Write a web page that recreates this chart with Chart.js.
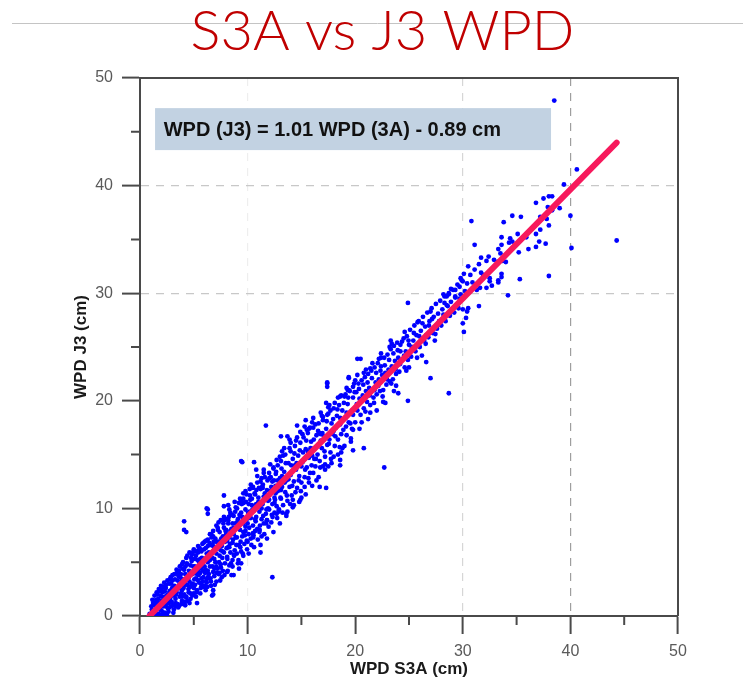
<!DOCTYPE html>
<html>
<head>
<meta charset="utf-8">
<script src="https://cdn.jsdelivr.net/npm/chart.js@4"></script>
<style>
  body { margin: 0; background: #fff; }
  #wrap { width: 743px; height: 683px; }
</style>
</head>
<body>
<div id="wrap"><canvas id="wpd"></canvas></div>
<script>
// WPD S3A (x) vs WPD J3 (y), in cm

// core of the cloud, S3A < 10 cm
var bandLow = [
  [0.9,0.2],[1.1,0.6],[1.2,0.1],[1.3,1.0],[1.4,0.4],[1.5,1.5],[1.6,0.7],[1.7,0.2],[1.8,1.2],[1.9,1.9],
  [2.0,0.5],[2.0,1.4],[2.1,2.2],[2.2,0.9],[2.3,1.7],[2.3,0.3],[2.4,2.6],[2.5,1.2],[2.6,2.0],[2.6,0.7],
  [2.7,3.0],[2.8,1.6],[2.9,2.4],[2.9,0.9],[3.0,3.3],[3.0,1.9],[3.1,1.0],[3.2,2.8],[3.2,3.9],[3.3,1.6],
  [3.4,2.2],[3.4,4.3],[3.5,1.1],[3.5,3.3],[3.6,2.6],[3.7,4.6],[3.7,1.8],[3.8,3.0],[3.8,3.9],[3.9,1.4],
  [3.9,2.4],[4.0,5.0],[4.0,3.4],[4.1,2.0],[4.1,4.3],[4.2,2.9],[4.3,5.4],[4.3,1.7],[4.4,3.7],[4.4,4.8],
  [4.5,2.5],[4.6,3.2],[4.6,5.9],[4.7,4.1],[4.7,2.1],[4.8,5.1],[4.9,3.0],[4.9,3.9],[5.0,6.2],[5.0,2.6],
  [5.1,4.6],[5.2,3.5],[5.2,5.6],[5.3,2.4],[5.4,4.2],[5.4,6.5],[5.5,3.1],[5.5,5.0],[5.6,4.0],[5.7,6.0],
  [5.7,2.9],[5.8,4.7],[5.9,3.6],[5.9,6.8],[6.0,5.3],[6.0,2.8],[6.1,4.3],[6.1,6.3],[6.2,3.4],[6.3,7.1],
  [6.3,5.0],[6.4,3.9],[6.4,5.9],[6.5,7.6],[6.5,4.6],[6.6,3.2],[6.6,6.6],[6.7,5.4],[6.8,7.9],[6.8,4.1],
  [6.9,6.2],[6.9,3.7],[7.0,7.2],[7.0,5.0],[7.1,8.4],[7.1,5.8],[7.2,4.4],[7.3,6.9],[7.3,3.9],[7.4,7.8],
  [7.4,5.6],[7.5,4.8],[7.5,8.9],[7.6,6.5],[7.7,4.2],[7.7,7.4],[7.8,5.9],[7.8,8.2],[7.9,6.9],[7.9,4.9],
  [8.0,9.0],[8.0,7.6],[8.1,5.5],[8.2,6.4],[8.2,8.6],[8.3,4.7],[8.3,7.3],[8.4,9.6],[8.4,5.9],[8.5,8.1],
  [8.6,6.8],[8.6,5.2],[8.7,9.3],[8.7,7.6],[8.8,6.1],[8.9,8.6],[8.9,10.1],[9.0,5.8],[9.0,7.3],[9.1,9.0],
  [9.2,6.6],[9.2,10.5],[9.3,8.0],[9.4,6.0],[9.4,9.6],[9.5,7.4],[9.6,10.9],[9.6,8.6],[9.7,6.7],[9.8,9.9],
  [9.8,7.9],[9.9,11.3],[10.0,8.6],[10.0,6.9]
];

// further passes over the packed part of the cloud
var fillLow = [
  [1.05,0.9],[1.15,1.5],[1.25,0.5],[1.35,1.9],[1.45,0.2],[1.55,2.2],[1.65,1.2],[1.75,2.5],[1.85,0.6],[1.95,2.8],
  [2.05,1.8],[2.15,0.2],[2.25,3.1],[2.35,1.1],[2.45,1.9],[2.55,3.3],[2.65,0.4],[2.75,2.3],[2.85,3.6],[2.95,1.3],
  [3.05,2.6],[3.15,0.6],[3.25,3.4],[3.35,2.0],[3.45,4.0],[3.55,0.8],[3.65,2.9],[3.75,3.6],[3.85,1.1],[3.95,4.4],
  [4.05,2.6],[4.15,1.3],[4.25,3.3],[4.35,4.9],[4.45,1.4],[4.55,4.2],[4.65,2.7],[4.75,5.4],[4.85,1.9],[4.95,4.6],
  [5.05,3.4],[5.15,6.0],[5.25,2.2],[5.35,5.2],[5.45,3.8],[5.55,6.3],[5.65,2.6],[5.75,5.4],[5.85,3.2],[5.95,6.2],
  [6.05,4.0],[6.15,7.0],[6.25,2.7],[6.35,5.5],[6.45,6.8],[6.55,3.5],[6.65,7.3],[6.75,4.6],[6.85,6.9],[6.95,2.9],
  [7.05,6.4],[7.15,4.0],[7.25,8.0],[7.35,5.0],[7.45,3.3],[7.55,7.2],[7.65,5.4],[7.75,8.6],[7.85,3.8],[7.95,7.9],
  [8.05,6.3],[8.15,4.2],[8.25,9.2],[8.35,6.7],[8.45,4.9],[8.55,9.4],[8.65,7.1],[8.75,5.6],[8.85,9.7],[8.95,6.6],
  [9.05,8.3],[9.15,5.2],[9.25,9.4],[9.35,6.9],[9.45,10.4],[9.55,5.8],[9.65,9.1],[9.75,7.5],[9.85,10.6],[9.95,6.2],
  [10.05,9.6],[10.15,8.2],[10.25,10.8],[10.35,6.6],[10.45,9.9],[10.55,7.5],[10.65,11.4],[10.75,8.8],[10.85,10.2],[10.95,7.1],
  [11.05,11.9],[11.15,8.4],[11.25,10.5],[11.35,12.0],[11.45,9.3],[11.55,7.6],[11.65,11.2],[11.75,9.9],[11.85,12.6],[11.95,8.3]
];

var edgeLow = [
  [1.6,2.0],[1.9,0.1],[2.2,2.7],[2.5,0.1],[2.8,3.4],[3.1,0.3],[3.3,3.9],[3.6,0.9],[3.9,4.8],[4.2,1.0],
  [4.4,5.6],[4.7,1.6],[4.9,5.9],[5.2,1.8],[5.4,5.9],[5.6,2.1],[5.8,6.7],[6.1,2.4],[6.3,6.5],[6.6,2.8],
  [6.8,7.4],[7.1,3.2],[7.3,8.7],[7.6,3.6],[7.8,9.2],[8.1,4.1],[8.3,9.9],[8.6,4.6],[8.8,10.6],[9.1,4.9],
  [9.3,10.9],[9.6,5.6],[9.8,11.6],[10.1,5.8],[10.3,12.2],[10.6,6.4],
  [1.7,1.6],[2.0,2.4],[2.4,0.9],[2.7,1.2],[3.0,2.6],[3.3,2.5],[3.6,3.7],[3.9,3.3],[4.2,3.9],[4.5,3.5],
  [4.8,2.9],[5.1,5.3],[5.4,3.3],[5.7,4.4],[6.0,4.6],[6.3,4.2],[6.6,5.7],[6.9,5.3],[7.2,6.4],[7.5,6.1],
  [7.8,7.1],[8.1,7.0],[8.4,7.9],[8.7,8.2],[9.0,8.7],[9.3,9.3],[9.6,7.8],[9.9,9.0]
];

var coreLow = [
  [1.22,1.2],[1.52,0.1],[1.82,2.3],[2.12,0.3],[2.42,2.9],[2.72,0.8],[3.02,3.8],[3.32,1.2],[3.62,4.2],[3.92,1.8],
  [4.22,4.6],[4.52,2.2],[4.82,5.7],[5.12,2.9],[5.42,6.1],[5.72,3.5],[6.02,6.9],[6.32,3.6],[6.62,7.6],[6.92,4.4],
  [7.22,8.2],[7.52,4.5],[7.82,8.9],[8.12,5.3],[8.42,9.4],[8.72,5.7],[9.02,10.0],[9.32,6.4],[9.62,10.5],[9.92,7.0],
  [10.22,11.2],[10.52,7.3],[10.82,11.7],[11.12,8.0],[11.42,12.2],[11.72,8.6],[12.02,12.8],[12.32,9.2],[12.62,13.2],[12.92,9.9],
  [1.4,1.2],[1.7,0.9],[2.0,1.1],[2.3,2.3],[2.6,1.5],[2.9,3.0],[3.2,1.9],[3.5,2.6],[3.8,2.1],[4.1,3.1],
  [4.4,2.9],[4.7,4.7],[5.0,4.0],[5.3,3.9],[5.6,5.3],[5.9,4.2],[6.2,5.8],[6.5,5.2],[6.8,6.5],[7.1,6.9],
  [7.4,6.8],[7.7,6.0],[8.0,8.0],[8.3,6.4],[8.6,8.6],[8.9,7.3],[9.2,8.4],[9.5,9.2],[9.8,8.3],[10.1,9.1],
  [10.4,10.3],[10.7,9.0],[11.0,11.0],[11.3,10.0],[11.6,11.4],[11.9,10.0],[12.2,12.0],[12.5,10.5],[12.8,12.6],[13.1,11.7]
];

// S3A 10 to 20 cm
var bandMid = [
  [10.1,10.4],[10.1,7.6],[10.2,11.8],[10.3,9.1],[10.3,7.2],[10.4,10.9],[10.5,8.4],[10.5,12.0],[10.6,9.8],[10.7,7.9],
  [10.7,11.3],[10.8,9.2],[10.9,12.4],[10.9,8.1],[11.0,10.6],[11.1,9.7],[11.1,7.8],[11.2,11.8],[11.3,9.0],[11.3,12.8],
  [11.4,10.4],[11.5,8.6],[11.5,11.1],[11.6,12.9],[11.7,9.5],[11.8,11.7],[11.8,8.9],[11.9,10.7],[12.0,13.3],[12.0,9.9],
  [12.1,11.6],[12.2,8.7],[12.3,12.5],[12.3,10.4],[12.4,13.8],[12.5,11.0],[12.5,9.6],[12.6,12.1],[12.7,10.2],[12.8,14.0],
  [12.8,11.6],[12.9,9.8],[13.0,12.8],[13.1,10.9],[13.1,14.4],[13.2,12.0],[13.3,10.3],[13.4,13.4],[13.5,11.5],[13.5,15.0],
  [13.6,12.6],[13.7,10.7],[13.8,14.2],[13.9,12.0],[14.0,15.3],[14.0,13.1],[14.1,11.2],[14.2,14.6],[14.3,12.5],[14.4,15.8],
  [14.5,13.6],[14.6,11.9],[14.7,14.9],[14.8,13.0],[14.9,16.1],[15.0,12.4],[15.1,14.3],[15.2,16.6],[15.3,12.9],[15.4,15.5],
  [15.5,13.8],[15.6,17.0],[15.7,14.7],[15.8,13.3],[15.9,16.2],[16.0,14.9],[16.1,17.5],[16.2,15.6],[16.3,13.9],[16.4,16.8],
  [16.5,15.0],[16.6,17.9],[16.7,14.4],[16.8,16.3],[16.9,15.6],[17.0,18.2],[17.1,16.7],[17.2,14.8],[17.3,17.4],[17.4,15.9],
  [17.5,18.8],[17.6,16.4],[17.7,15.2],[17.8,17.9],[17.9,16.9],[18.0,19.3],[18.1,15.8],[18.2,17.5],[18.3,18.6],[18.4,16.4],
  [18.5,19.6],[18.6,17.8],[18.7,16.9],[18.8,19.1],[18.9,17.3],[19.0,20.4],[19.1,18.4],[19.2,16.8],[19.3,19.7],[19.4,18.0],
  [19.5,20.9],[19.6,18.9],[19.7,17.4],[19.8,20.3],[19.9,19.2],[20.0,18.0]
];

var fillMid = [
  [12.05,11.3],[12.15,12.9],[12.25,9.4],[12.45,12.6],[12.55,10.8],[12.65,13.4],[12.75,9.1],[12.95,12.4],[13.05,11.0],[13.15,13.7],
  [13.25,9.6],[13.45,12.4],[13.55,14.2],[13.65,11.2],[13.85,13.1],[13.95,10.4],[14.05,14.0],[14.15,12.1],[14.35,15.1],[14.45,11.5],
  [14.55,14.2],[14.75,12.6],[14.85,15.4],[14.95,11.6],[15.15,15.2],[15.35,13.6],[15.45,16.3],[15.65,12.8],[15.85,15.6],[15.95,14.0],
  [16.15,16.4],[16.35,14.6],[16.55,17.2],[16.75,13.8],[16.95,17.0],[17.15,15.3],[17.35,18.1],[17.55,16.0],[17.75,14.6],[17.95,18.3],
  [18.15,16.7],[18.35,19.2],[18.55,15.7],[18.75,18.2],[18.95,19.8],[19.15,17.6],[19.35,20.3],[19.55,17.9],[19.75,19.1],[19.95,20.8]
];

var edgeMid = [
  [10.9,13.0],[11.2,6.6],[11.5,13.6],[11.8,7.2],[12.1,14.1],[12.4,7.8],[12.7,14.5],[13.0,8.6],[13.3,14.9],[13.6,9.3],
  [13.9,15.6],[14.2,10.1],[14.5,16.3],[14.8,10.6],[15.1,16.9],[15.4,11.3],[15.7,17.4],[16.0,12.1],[16.3,17.8],[16.6,12.9],
  [16.9,18.6],[17.2,13.6],[17.5,19.4],[17.8,14.2],[18.1,19.8],[18.4,15.0],[18.7,20.5],[19.0,15.8],[19.3,21.0],[19.6,16.5],
  [19.9,21.6],
  [10.2,9.7],[10.8,10.4],[11.4,11.9],[12.0,10.8],[12.6,11.4],[13.2,13.0],[13.8,12.7],[14.4,14.0],[15.0,13.9],[15.6,15.3],
  [16.2,14.6],[16.8,16.9],[17.4,16.7],[18.0,17.2],[18.6,18.4],[19.2,18.9],[19.8,18.7],
  [13.4,15.6],[13.7,9.7],[14.0,16.1],[14.3,10.3],[14.6,16.6],[15.0,11.0],[15.3,17.6],[15.7,12.4],[16.0,18.0],[16.4,12.6],
  [16.8,18.9],[17.2,14.1],[17.6,19.6],[18.0,14.8],[18.4,20.3],[18.8,15.6],[19.2,21.2],[19.6,16.2]
];

// S3A 20 to 30 cm
var bandHigh = [
  [20.1,20.8],[20.2,19.1],[20.3,21.6],[20.4,20.2],[20.5,18.7],[20.6,21.9],[20.7,20.5],[20.8,19.3],[20.9,22.2],[21.0,20.9],
  [21.1,19.9],[21.2,22.5],[21.3,21.2],[21.4,19.6],[21.5,22.8],[21.6,21.0],[21.7,20.3],[21.8,23.1],[21.9,21.7],[22.0,20.6],
  [22.1,23.5],[22.2,22.0],[22.3,20.9],[22.4,23.2],[22.5,22.4],[22.6,21.0],[22.7,24.0],[22.8,22.6],[22.9,21.5],[23.0,24.3],
  [23.1,22.9],[23.2,21.8],[23.3,24.8],[23.4,23.2],[23.5,22.0],[23.6,25.1],[23.7,23.7],[23.8,22.5],[23.9,25.4],[24.0,24.0],
  [24.1,22.7],[24.2,25.2],[24.3,23.8],[24.5,25.8],[24.6,23.1],[24.7,24.6],[24.8,26.0],[24.9,23.8],[25.0,25.2],[25.1,26.6],
  [25.2,24.1],[25.4,25.6],[25.5,27.0],[25.6,24.6],[25.7,26.1],[25.9,27.4],[26.0,25.0],[26.1,26.5],[26.3,27.8],[26.4,25.6],
  [26.5,26.9],[26.7,28.2],[26.8,25.9],[26.9,27.4],[27.1,28.6],[27.2,26.3],[27.3,27.8],[27.5,29.0],[27.6,26.7],[27.7,28.1],
  [27.9,29.3],[28.0,27.0],[28.1,28.5],[28.3,29.7],[28.4,27.4],[28.5,28.9],[28.7,30.0],[28.8,27.9],[28.9,29.2],[29.1,30.3],
  [29.2,28.2],[29.3,29.6],[29.5,30.8],[29.6,28.6],[29.8,29.9],[29.9,31.2]
];

var fillHigh = [
  [20.15,19.7],[20.35,21.1],[20.55,19.9],[20.75,21.5],[20.95,19.0],[21.15,21.7],[21.35,20.5],[21.55,22.1],[21.75,19.8],[21.95,22.6],
  [22.15,21.4],[22.35,22.8],[22.55,20.4],[22.75,23.3],[22.95,22.0],[23.15,23.8],[23.35,21.6],[23.55,24.4],[23.75,22.9],[23.95,24.7],
  [24.15,23.4],[24.35,25.5],[24.55,24.2],[24.75,22.8],[24.95,25.6],[25.25,25.0],[25.45,26.3],[25.75,24.0],[25.95,26.0],[26.25,27.2],
  [26.55,25.3],[26.85,27.0],[27.15,27.6],[27.45,26.2],
  [20.2,22.4],[20.6,18.0],[21.0,22.9],[21.4,18.9],[21.8,21.0],[22.2,23.9],[22.6,19.9],[23.0,22.6],[23.4,25.3],[23.8,21.4],
  [24.2,24.6],[24.6,26.4],[25.0,23.1],[25.4,24.9],[25.8,27.3],[26.2,24.2],[26.6,26.1],[27.0,28.3],[27.4,25.6],[27.8,27.4],
  [28.2,28.0],
  [20.0,21.9],[20.4,17.4],[20.8,22.6],[21.2,18.3],[21.6,23.5],[22.0,19.1],[22.4,24.4],[22.8,19.8],[23.2,25.0],[23.6,20.9]
];

// sparse top end of the cloud
var upperTail = [
  [38.5,47.9],[40.6,41.5],[39.4,40.1],[44.3,34.9],[40.1,34.2],[40.0,37.2],[39.0,37.9],[38.3,39.0],[38.0,39.0],[37.5,38.8],
  [36.8,38.4],[37.9,38.0],[38.3,37.7],[37.2,37.1],[37.8,36.9],[38.0,36.3],[38.0,31.6],[35.3,31.3],[34.2,29.8],[30.8,36.7],
  [34.6,37.2],[35.4,37.1],[33.8,36.6],[33.6,35.2],[34.4,35.1],[35.1,35.5],[34.6,34.8],[34.3,34.7],[35.9,35.2],[36.8,35.5],
  [37.2,35.9],[37.1,34.8],[37.7,34.6],[36.8,34.3],[36.1,34.1],[35.2,33.8],[31.1,34.5],[33.6,34.5],[33.3,34.1],[33.5,33.7],
  [34.0,32.9],[33.7,33.0],[33.2,32.9],[32.9,33.1],[32.4,33.4],[31.7,33.3],[32.2,33.0],[31.5,32.7],[31.1,32.2],[30.5,32.5],
  [30.1,31.8],[30.7,31.7],[31.7,31.9],[31.9,31.7],[32.5,31.4],[32.5,31.1],[33.3,31.2],[33.6,31.5],[33.6,31.8],[33.3,31.0],
  [32.7,30.7],[32.2,30.5],[31.6,30.5],[31.3,30.3],[30.9,31.0],[30.4,30.9],[30.0,31.1],[29.8,31.4],[29.7,30.6],[29.3,30.3],
  [28.9,30.4],[28.7,29.9],[28.2,29.9],[28.5,29.7],[28.3,29.1],[29.3,29.7],[29.7,29.5],[30.2,30.2],[31.5,28.8],[30.5,28.6],
  [30.0,28.5],[28.6,28.8]
];

// points away from the band
var outliers = [
  [4.1,8.8],[4.3,7.8],[4.1,8.0],[6.3,9.9],[6.3,9.5],[6.2,10.0],[7.8,11.2],[7.8,10.2],[8.2,10.3],[8.2,8.9],
  [12.3,3.6],[11.2,5.9],[8.5,3.8],[6.7,1.9],[9.2,4.4],[11.3,7.4],[12.9,9.7],[9.5,14.3],[9.4,14.4],[11.7,17.7],
  [13.6,9.5],[14.9,10.8],[17.3,11.9],[16.7,12.0],[17.5,13.9],[18.6,14.0],[18.7,15.2],[16.7,17.0],[17.4,21.7],[17.4,21.3],
  [19.4,22.2],[15.4,18.2],[16.1,18.4],[20.2,23.9],[13.1,16.7],[13.7,16.7],[14.6,17.7],[10.6,14.3],[10.8,13.6],[9.4,4.9],
  [8.7,3.8],[6.8,2.0],[5.3,1.2],[4.6,1.2],[1.9,0.6],[3.3,0.9],[6.2,3.1],[6.8,2.4],[9.4,10.8],[9.6,11.4],
  [10.5,11.9],[11.2,12.5],[11.5,13.3],[12.4,13.7],[13.0,14.8],[13.2,15.3],[13.9,16.4],[14.9,17.1],[15.5,17.3],[15.8,17.5],
  [17.0,18.5],[17.4,18.7],[17.7,19.1],[18.6,20.4],[19.1,20.6],[19.4,21.0],[19.8,21.3],[10.5,7.7],[11.8,8.9],[12.7,9.5],
  [14.2,10.8],[15.3,12.0],[16.1,13.3],[17.0,13.9],[18.6,14.5],[19.8,15.4],[7.1,4.6],[7.4,4.0],[5.9,2.7],[5.0,2.1],
  [4.3,1.8],[20.5,23.9],[27.0,22.1],[28.7,20.7],[24.9,20.0],[30.1,26.4],[30.0,27.2],[30.4,28.3],[30.3,27.7],[17.4,21.6],
  [17.3,19.8],[24.0,20.7],[26.6,23.6],[23.3,25.6],[22.4,24.0],[21.4,23.0],[19.4,22.1],[20.8,15.6],[19.8,17.3],[22.7,13.8],
  [24.9,29.1]
];

// regression line ends: WPD (J3) = 1.01 WPD (3A) - 0.89 cm
var fitS3A = [0.88, 44.3];
var fitJ3 = [0.0, 44.0];

var axisTicks = [0, 10, 20, 30, 40, 50];
var minorTicks = [5, 15, 25, 35, 45];
var equationText = 'WPD (J3) = 1.01 WPD (3A) - 0.89 cm';

var scatterPts = bandLow.concat(fillLow, edgeLow, coreLow, bandMid, fillMid, edgeMid, bandHigh, fillHigh, upperTail, outliers)
  .map(function (p) { return { x: p[0], y: p[1] }; });
var fitPts = fitS3A.map(function (s, i) { return { x: s, y: fitJ3[i] }; });

var tickFont = { family: "'Liberation Sans', Arial, sans-serif", size: 16 };
var titleFont = { family: "'Liberation Sans', Arial, sans-serif", size: 17, weight: 'bold' };
var frame = '#4a4a4a';

// dashed grid, not every line is shown in the original
var xGrid = { 10: '#eeeeee', 30: '#d6d6d6', 40: '#9e9e9e' };
var yGrid = { 30: '#c8c8c8', 40: '#c8c8c8' };

var extras = {
  id: 'extras',
  beforeDraw: function (chart) {
    var c = chart.ctx;
    c.save();
    c.strokeStyle = '#c4c4c4';
    c.lineWidth = 1;
    c.beginPath();
    c.moveTo(12, 23.5);
    c.lineTo(chart.width, 23.5);
    c.stroke();
    c.restore();
  },
  beforeDatasetsDraw: function (chart) {
    var c = chart.ctx, xs = chart.scales.x, ys = chart.scales.y;
    // equation label box
    var x0 = xs.getPixelForValue(1.4), x1 = xs.getPixelForValue(38.2);
    var y0 = ys.getPixelForValue(47.2), y1 = ys.getPixelForValue(43.3);
    c.save();
    c.fillStyle = '#c2d2e2';
    c.fillRect(x0, y0, x1 - x0, y1 - y0);
    c.fillStyle = '#111';
    c.font = "bold 20px 'Liberation Sans', Arial, sans-serif";
    c.textBaseline = 'middle';
    c.fillText(equationText, xs.getPixelForValue(2.2), ys.getPixelForValue(45.1));
    c.restore();
  },
  afterDraw: function (chart) {
    var c = chart.ctx, a = chart.chartArea, xs = chart.scales.x, ys = chart.scales.y;
    c.save();
    c.strokeStyle = frame;
    c.lineWidth = 2;
    c.beginPath();
    c.moveTo(a.left, a.top);
    c.lineTo(a.right, a.top);
    c.lineTo(a.right, a.bottom);
    minorTicks.forEach(function (v) {
      var px = xs.getPixelForValue(v), py = ys.getPixelForValue(v);
      c.moveTo(px, a.bottom);
      c.lineTo(px, a.bottom + 9);
      c.moveTo(a.left, py);
      c.lineTo(a.left - 9, py);
    });
    c.stroke();
    c.restore();
  }
};

var ctx = document.getElementById('wpd');
var chartGraph = new Chart(ctx, {
  type: 'scatter',
  data: {
    datasets: [{
      label: 'fit',
      data: fitPts,
      showLine: true,
      borderColor: '#f7195c',
      borderWidth: 6,
      borderCapStyle: 'round',
      pointRadius: 0,
      order: 0
    }, {
      label: 'WPD',
      data: scatterPts,
      backgroundColor: '#0000ff',
      pointRadius: 2.4,
      pointBorderWidth: 0,
      order: 1
    }]
  },
  options: {
    responsive: true,
    maintainAspectRatio: false,
    animation: false,
    // left/right padding also puts the title where it sits in the original
    layout: { padding: { left: 87, right: 65, top: 0, bottom: 0 } },
    plugins: {
      legend: { display: false },
      tooltip: { enabled: false },
      title: {
        display: true,
        text: 'S3A vs J3 WPD',
        color: '#c00000',
        font: { family: 'Lato, Calibri, sans-serif', size: 56, weight: 300, lineHeight: 1 },
        padding: { top: 4, bottom: 18 }
      }
    },
    scales: {
      x: {
        type: 'linear',
        min: 0,
        max: 50,
        afterBuildTicks: function (s) { s.ticks = axisTicks.map(function (v) { return { value: v }; }); },
        afterFit: function (s) { s.height = 67; },
        ticks: { color: '#5a5a5a', font: tickFont, padding: 8 },
        grid: {
          color: function (c) { return (c.tick && xGrid[c.tick.value]) || 'rgba(0,0,0,0)'; },
          lineWidth: 1.2,
          tickLength: 18,
          tickWidth: 2,
          tickColor: frame
        },
        border: { color: frame, width: 2, dash: [8, 7] },
        title: { display: true, text: 'WPD S3A (cm)', color: '#1a1a1a', font: titleFont, padding: { top: 0, bottom: 3 } }
      },
      y: {
        type: 'linear',
        min: 0,
        max: 50,
        afterBuildTicks: function (s) { s.ticks = axisTicks.map(function (v) { return { value: v }; }); },
        afterFit: function (s) { s.width = 53; },
        ticks: { color: '#5a5a5a', font: tickFont, padding: 9 },
        grid: {
          color: function (c) { return (c.tick && yGrid[c.tick.value]) || 'rgba(0,0,0,0)'; },
          lineWidth: 1.2,
          tickLength: 18,
          tickWidth: 2,
          tickColor: frame
        },
        border: { color: frame, width: 2, dash: [8, 7] },
        title: { display: true, text: 'WPD J3 (cm)', color: '#1a1a1a', font: titleFont, padding: { top: -16, bottom: 0 } }
      }
    }
  },
  plugins: [extras]
});
</script>
</body>
</html>
